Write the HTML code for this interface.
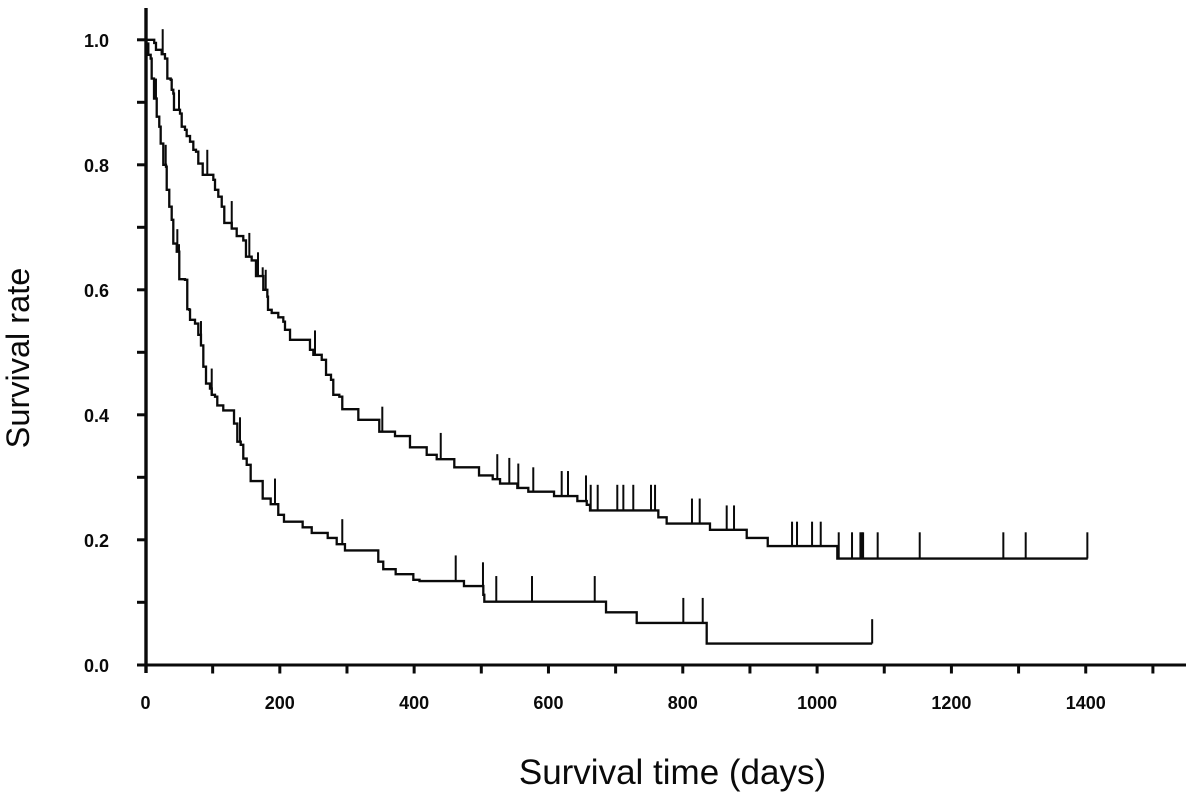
<!DOCTYPE html>
<html lang="en">
<head>
<meta charset="utf-8">
<title>Survival curves</title>
<style>
html,body{margin:0;padding:0;background:#fff;}
svg{display:block;}
text{font-family:"Liberation Sans",sans-serif;fill:#0a0a0a;}
.tick-label{font-size:18px;font-weight:bold;}
.axis-title{font-size:35px;}
</style>
</head>
<body>
<svg id="chart" xmlns="http://www.w3.org/2000/svg" width="1191" height="800" viewBox="0 0 1191 800">
<rect x="0" y="0" width="1191" height="800" fill="#fff"/>
<g id="marks"></g>
<g id="axes"></g>
<text class="axis-title" x="672.5" y="784" text-anchor="middle">Survival time (days)</text>
<text class="axis-title" style="font-size:32.5px" transform="translate(29,358) rotate(-90)" text-anchor="middle">Survival rate</text>
</svg>
<script>
const xTickValues = [0,100,200,300,400,500,600,700,800,900,1000,1100,1200,1300,1400,1500];
const xTickLabels = [0,200,400,600,800,1000,1200,1400];
const yTickValues = [0,0.1,0.2,0.3,0.4,0.5,0.6,0.7,0.8,0.9,1.0];
const yTickLabels = ["0.0","0.2","0.4","0.6","0.8","1.0"];

const upperTimes = [0,13,15.6,24.1,29,32.5,37.5,39,41.4,42.4,51.4,53.9,58.8,61.3,66.3,71.2,75.2,78.6,85.2,101,103.5,108.4,113.5,117.3,128.4,135.8,145.6,149.6,158.1,164.5,175.4,181.4,182.4,187.9,197.7,205.2,207.7,215.2,244.9,249.9,262.4,268.8,276.2,279.6,288.6,293,316.9,348.1,371.5,393.8,418.7,433.6,459.8,496.6,517,527.9,553.6,570,608.3,643,657,661.9,763.6,776,840.5,895.2,926.5,1030.1,1403];
const upperSurvival = [1,0.995,0.984,0.977,0.97,0.938,0.936,0.92,0.914,0.888,0.882,0.861,0.856,0.846,0.837,0.824,0.821,0.802,0.784,0.776,0.76,0.749,0.733,0.707,0.698,0.686,0.679,0.653,0.647,0.622,0.6,0.589,0.568,0.563,0.556,0.549,0.536,0.52,0.504,0.496,0.488,0.464,0.456,0.432,0.429,0.409,0.392,0.373,0.366,0.348,0.336,0.329,0.316,0.303,0.297,0.29,0.283,0.277,0.27,0.262,0.256,0.247,0.236,0.226,0.216,0.203,0.19,0.17,0.17];
const upperCensorTimes = [25.6,49.9,92,128.4,154.6,167.5,174.5,179,252.4,352.6,439.6,523.8,541.7,555.1,577.4,619.7,629.1,655.9,662.9,673.3,702.5,711.5,726.3,752.7,758.7,813.7,825.2,865.4,876.3,962.7,970.1,992.5,1005.4,1032.2,1052,1064.5,1066.5,1068.5,1090.2,1152.8,1277.3,1310.6,1402.4];
const upperCensorTops = [1.017,0.92,0.824,0.742,0.691,0.66,0.636,0.632,0.535,0.413,0.371,0.337,0.331,0.322,0.316,0.31,0.31,0.303,0.288,0.288,0.288,0.288,0.288,0.288,0.288,0.266,0.266,0.255,0.255,0.229,0.229,0.229,0.229,0.212,0.212,0.212,0.212,0.212,0.212,0.212,0.212,0.212,0.212];

const lowerTimes = [0,1,4.2,7.7,9.2,12.7,16.7,20.5,22.6,26.5,30.5,31.6,35.4,39,41.4,46.5,50.3,58.8,62.2,65.2,66.3,73.7,78.6,82.6,86.1,90.1,96,98.6,103.5,106.9,115.8,131.8,136.7,141.8,145.6,150.7,156.6,174.5,186.4,197.7,206.2,234,247.5,271.3,284.7,297,346.6,354,372.5,398.8,408,474.2,503,504.5,685.7,731.4,835.6,1082];
const lowerSurvival = [1,0.994,0.976,0.97,0.938,0.906,0.877,0.861,0.834,0.8,0.797,0.76,0.733,0.712,0.674,0.661,0.617,0.616,0.569,0.568,0.552,0.546,0.528,0.511,0.477,0.45,0.442,0.432,0.429,0.415,0.407,0.386,0.357,0.352,0.33,0.32,0.294,0.266,0.257,0.24,0.229,0.22,0.211,0.203,0.193,0.183,0.165,0.153,0.145,0.136,0.134,0.126,0.112,0.101,0.084,0.067,0.034,0.034];
const lowerCensorTimes = [15.6,30.1,47.4,49.9,61.8,82.6,98.6,140.7,192.8,293,461.9,502.5,522.3,575.5,668.9,800.8,829.7,1082];
const lowerCensorTops = [0.938,0.832,0.697,0.673,0.616,0.55,0.474,0.396,0.298,0.233,0.175,0.164,0.142,0.142,0.142,0.107,0.107,0.073];

const SVGNS = "http://www.w3.org/2000/svg";
const ink = "#0a0a0a";
function xScale(t){ return 145.5 + t * 0.6716; }
function yScale(s){ return 664.8 - s * 625; }
function stepValue(times, values, t){
  let v = values[0];
  for (let i = 0; i < times.length; i++) { if (times[i] <= t) v = values[i]; }
  return v;
}
function makeLine(parent, x1, y1, x2, y2, w){
  const l = document.createElementNS(SVGNS, "line");
  l.setAttribute("x1", x1); l.setAttribute("y1", y1);
  l.setAttribute("x2", x2); l.setAttribute("y2", y2);
  l.setAttribute("stroke", ink); l.setAttribute("stroke-width", w);
  parent.appendChild(l);
  return l;
}
function makeText(parent, x, y, anchor, str){
  const t = document.createElementNS(SVGNS, "text");
  t.setAttribute("x", x); t.setAttribute("y", y);
  t.setAttribute("text-anchor", anchor);
  t.setAttribute("class", "tick-label");
  t.textContent = str;
  parent.appendChild(t);
  return t;
}
function drawCurve(parent, times, values){
  let d = "M" + xScale(times[0]).toFixed(2) + " " + yScale(values[0]).toFixed(2);
  for (let i = 1; i < times.length; i++) {
    d += "H" + xScale(times[i]).toFixed(2) + "V" + yScale(values[i]).toFixed(2);
  }
  const p = document.createElementNS(SVGNS, "path");
  p.setAttribute("d", d);
  p.setAttribute("fill", "none");
  p.setAttribute("stroke", ink);
  p.setAttribute("stroke-width", "2.3");
  parent.appendChild(p);
  return p;
}
const marks = document.getElementById("marks");
const axes = document.getElementById("axes");

const upperCurve = drawCurve(marks, upperTimes, upperSurvival);


const lowerCurve = drawCurve(marks, lowerTimes, lowerSurvival);



upperCensorTimes.forEach(function(t, i){
  const m = makeLine(marks, xScale(t), yScale(stepValue(upperTimes, upperSurvival, t)), xScale(t), yScale(upperCensorTops[i]), 2);
  
  
});
lowerCensorTimes.forEach(function(t, i){
  const m = makeLine(marks, xScale(t), yScale(stepValue(lowerTimes, lowerSurvival, t)), xScale(t), yScale(lowerCensorTops[i]), 2);
  
  
});

const yAxisLine = makeLine(axes, 146, 8, 146, 673, 3.4);


const xAxisLine = makeLine(axes, 137, 665, 1186, 665, 3);



xTickValues.forEach(function(v){
  if (v === 0) return;
  const t = makeLine(axes, xScale(v), 665, xScale(v), 673.5, 3);
  
  
});
yTickValues.forEach(function(v){
  if (v === 0) return;
  const t = makeLine(axes, 137, yScale(v), 146, yScale(v), 3);
  
  
});
xTickLabels.forEach(function(v){
  const t = makeText(axes, xScale(v), 709, "middle", String(v));
  
  
});
yTickLabels.forEach(function(v){
  const t = makeText(axes, 109, yScale(parseFloat(v)) + 7, "end", v);
  
  
});
</script>
</body>
</html>
